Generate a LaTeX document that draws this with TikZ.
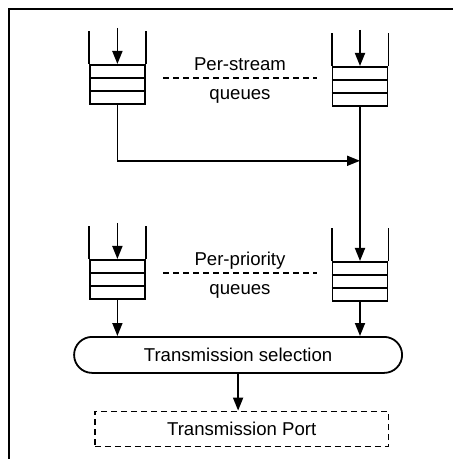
\documentclass[tikz,border=0pt]{standalone}
\usepackage{fontspec}
\setmainfont{Liberation Sans}
\usetikzlibrary{arrows.meta,calc,positioning}

\tikzset{
  queue/.style={draw, line width=0.9pt, minimum width=27.5pt, minimum height=19.5pt, inner sep=0pt},
  flow/.style={-{Triangle[length=6.5pt,width=5pt]}, line width=0.9pt},
  wire/.style={line width=0.9pt},
  sep/.style={dash pattern=on 3pt off 2pt, line width=0.9pt},
  lbl/.style={anchor=base, inner sep=0pt}
}

\begin{document}
\begin{tikzpicture}[font=\fontsize{9.3}{11}\selectfont]

\coordinate(O1) at (0,0);
\useasboundingbox (O1) rectangle (226.5pt,-229.5pt);

% frame
\draw[line width=1.3pt] (4.5pt,-229.5pt) -- (4.5pt,-4.5pt) -- (226.5pt,-4.5pt);

\node[queue, below right=32pt and 44.5pt of O1](qsl) {};
\node[queue, below right=33pt and 165.8pt of O1](qsr) {};
\node[queue, below right=129.5pt and 44.5pt of O1](qpl) {};
\node[queue, below right=130.5pt and 165.8pt of O1](qpr) {};

\node[draw, line width=0.9pt, rounded corners=9pt, minimum width=164pt, minimum height=18pt, below right=168pt and 36.6pt of O1](sel) {Transmission selection};
\node[draw, sep, minimum width=146.8pt, minimum height=17.5pt, below right=205.3pt and 47pt of O1](port) {Transmission Port};

% slots and walls
\foreach \q in {qsl,qsr,qpl,qpr}{
  \draw[wire] ($(\q.north west)!0.35!(\q.south west)$) -- ($(\q.north east)!0.35!(\q.south east)$);
  \draw[wire] ($(\q.north west)!0.67!(\q.south west)$) -- ($(\q.north east)!0.67!(\q.south east)$);
  \draw[wire] (\q.north west) -- ++(0,16.5pt);
  \draw[wire] (\q.north east) -- ++(0,16.5pt);
}

\foreach \q in {qsl,qsr,qpl}{
  \coordinate[above=18pt of \q.north](in\q);
  \draw[flow] (in\q) -- (\q);
}

\coordinate[below=28pt of qsl.south](bend);
\draw[flow] (qsl.south) -- (bend) -- (bend -| qsr.south);
\draw[flow] (qsr) -- (qpr);
\draw[flow] (qpl) -- (qpl |- sel.north);
\draw[flow] (qpr) -- (qpr |- sel.north);
\draw[flow] (sel) -- (sel |- port.north);

% separators
\coordinate[below right=39pt and 81.5pt of O1](ds1);
\coordinate[below right=39pt and 158.5pt of O1](ds2);
\coordinate[below right=136.3pt and 81.5pt of O1](dp1);
\coordinate[below right=136.3pt and 158.5pt of O1](dp2);
\draw[sep] (ds1) -- (ds2);
\draw[sep] (dp1) -- (dp2);
\coordinate (dsm) at ($(ds1)!0.5!(ds2)$);
\coordinate (dpm) at ($(dp1)!0.5!(dp2)$);

\node[above=3.5pt of dsm, lbl](ts) {Per-stream};
\node[below=11pt of dsm, lbl](tsq) {queues};
\node[above=3.5pt of dpm, lbl](tp) {Per-priority};
\node[below=11pt of dpm, lbl](tpq) {queues};
\end{tikzpicture}
\end{document}
